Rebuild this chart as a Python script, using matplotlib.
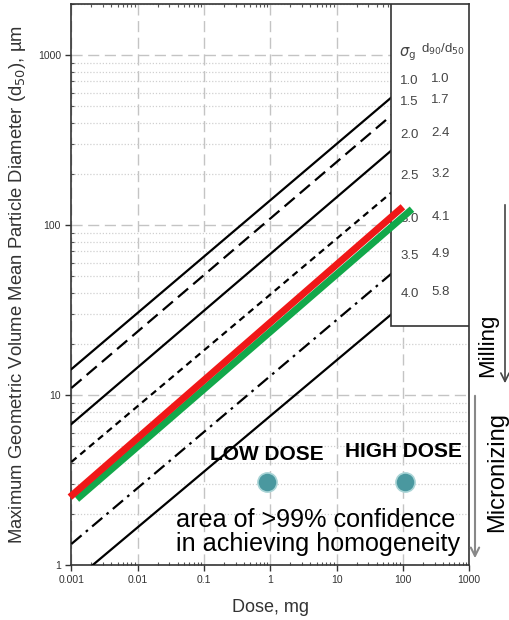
import matplotlib
matplotlib.use('Agg')
import matplotlib.pyplot as plt
from matplotlib.patches import Rectangle, FancyArrowPatch
from matplotlib.ticker import FixedLocator, LogLocator, NullFormatter

plt.rcParams['font.family'] = ['Liberation Sans', 'DejaVu Sans']

# legend table
sigma_g = ['1.0', '1.5', '2.0', '2.5', '3.0', '3.5', '4.0']
d90_d50 = ['1.0', '1.7', '2.4', '3.2', '4.1', '4.9', '5.8']

# black reference lines (start/end points)
black_start_dose = [0.001, 0.001, 0.001, 0.001, 0.001, 0.0021]
black_start_d50 = [14.2, 11.0, 6.75, 4.04, 1.33, 1.0]
black_end_dose = [68, 68, 68, 68, 68, 68]
black_end_d50 = [566, 444, 276, 156, 52, 30]

# highlighted lines
red_dose = [0.00095, 100]
red_d50 = [2.51, 128]
green_dose = [0.00121, 137]
green_d50 = [2.44, 124]

# dose markers
marker_dose = [0.89, 107]
marker_d50 = [3.08, 3.08]
marker_labels = ['LOW DOSE', 'HIGH DOSE']

x_ticks = [0.001, 0.01, 0.1, 1, 10, 100, 1000]
x_ticklabels = ['0.001', '0.01', '0.1', '1', '10', '100', '1000']
y_ticks = [1, 10, 100, 1000]
y_ticklabels = ['1', '10', '100', '1000']

fig = plt.figure(figsize=(5.1, 6.2), dpi=100)
ax = fig.add_axes([0.140, 0.0887, 0.780, 0.905])
ax.set_xscale('log')
ax.set_yscale('log')
ax.set_xlim(0.001, 1000)
ax.set_ylim(1, 2000)

# grid
ax.yaxis.set_minor_locator(LogLocator(base=10, subs=range(2, 10)))
ax.xaxis.set_minor_locator(LogLocator(base=10, subs=range(2, 10)))
ax.yaxis.set_minor_formatter(NullFormatter())
ax.xaxis.set_minor_formatter(NullFormatter())
ax.grid(True, which='major', axis='both', color='#c4c4c4', linestyle=(0, (8, 4)), linewidth=1.0)
ax.grid(True, which='minor', axis='y', color='#d0d0d0', linestyle=(0, (1, 1.5)), linewidth=0.9)
ax.set_axisbelow(True)

ax.xaxis.set_major_locator(FixedLocator(x_ticks))
ax.yaxis.set_major_locator(FixedLocator(y_ticks))
ax.set_xticklabels(x_ticklabels)
ax.set_yticklabels(y_ticklabels)
ax.tick_params(which='major', direction='out', length=4, width=1, colors='#333333', labelsize=7.5)
ax.tick_params(which='minor', direction='in', length=2.5, width=0.8, colors='#555555', top=True)
for s in ax.spines.values():
    s.set_color('#333333')
    s.set_linewidth(1.2)

styles = ['-', (0, (6, 3)), '-', (0, (3, 2.2)), (0, (6, 2.5, 1.2, 2.5)), '-']
for i in range(len(black_start_dose)):
    ax.plot([black_start_dose[i], black_end_dose[i]], [black_start_d50[i], black_end_d50[i]],
            color='black', linewidth=1.6, linestyle=styles[i], zorder=3)

# legend box
ax.add_patch(Rectangle((0.804, 0.426), 0.196, 0.574, transform=ax.transAxes,
                       facecolor='white', edgecolor='#333333', linewidth=1.2, zorder=4))

ax.plot(green_dose, green_d50, color='#12a84a', linewidth=5, solid_capstyle='butt', zorder=6)
ax.plot(red_dose, red_d50, color='#f01818', linewidth=5, solid_capstyle='butt', zorder=7, clip_on=False)

# legend text
ax.text(0.845, 0.9105, r'$\sigma_{\rm g}$', transform=ax.transAxes, ha='center', va='center',
        fontsize=10.5, color='#444444', zorder=5)
ax.text(0.935, 0.918, r'd$_{90}$/d$_{50}$', transform=ax.transAxes, ha='center', va='center',
        fontsize=9.5, color='#444444', zorder=5)
row_y = [82, 103, 136, 177, 220, 257, 295]
for i in range(len(sigma_g)):
    yy = 1 - (row_y[i] - 5) / 561
    ax.text(0.85, yy, sigma_g[i], transform=ax.transAxes, ha='center', va='center',
            fontsize=9.5, color='#444444', zorder=5)
    ax.text(0.928, yy + 0.003, d90_d50[i], transform=ax.transAxes, ha='center', va='center',
            fontsize=9.5, color='#444444', zorder=5)

# dose markers
ax.scatter(marker_dose, marker_d50, s=190, color='#4a989f', edgecolors='#a9d4d6', linewidths=1.2, zorder=5)
ax.annotate(marker_labels[0], (marker_dose[0], marker_d50[0]), xytext=(0, 20), textcoords='offset points',
            ha='center', va='center', fontsize=15, fontweight='bold', color='black')
ax.annotate(marker_labels[1], (marker_dose[1], marker_d50[1]), xytext=(-1, 22), textcoords='offset points',
            ha='center', va='center', fontsize=15, fontweight='bold', color='black')

ax.text(0.263, 0.016, 'area of >99% confidence\nin achieving homogeneity', transform=ax.transAxes,
        ha='left', va='bottom', fontsize=18.1, color='black', linespacing=1.02)

ax.set_xlabel('Dose, mg', fontsize=13, color='#333333', labelpad=10)
ax.set_ylabel(r'Maximum Geometric Volume Mean Particle Diameter (d$_{50}$), µm',
              fontsize=13.3, color='#333333', labelpad=7)

# milling / micronizing arrows
fig.patches.append(FancyArrowPatch((505 / 510, 1 - 202 / 620), (505 / 510, 1 - 386 / 620),
                   transform=fig.transFigure, arrowstyle='->,head_length=6,head_width=3',
                   color='#444444', linewidth=1.2))
fig.patches.append(FancyArrowPatch((475 / 510, 1 - 393 / 620), (475 / 510, 1 - 561 / 620),
                   transform=fig.transFigure, arrowstyle='->,head_length=6,head_width=3',
                   color='#888888', linewidth=1.5))
fig.text(488 / 510, 1 - 345 / 620, 'Milling', rotation=90, ha='center', va='center', fontsize=16, color='black')
fig.text(497 / 510, 1 - 472 / 620, 'Micronizing', rotation=90, ha='center', va='center', fontsize=17, color='black')

fig.savefig('out.png', dpi=100)
